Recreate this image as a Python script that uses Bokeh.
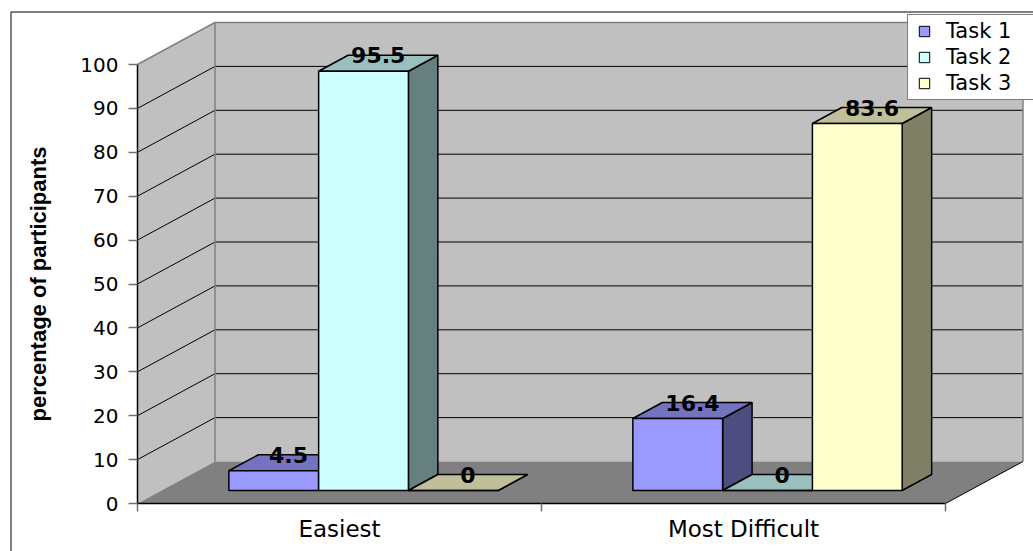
from bokeh.plotting import figure
from bokeh.models import Range1d, LinearAxis, FixedTicker, ColumnDataSource, Legend, LegendItem
from bokeh.core.properties import value
from bokeh.embed import file_html
from bokeh.resources import INLINE

# ---------------- data ----------------
categories = ["Easiest", "Most Difficult"]
series_names = ["Task 1", "Task 2", "Task 3"]
task1 = [4.5, 16.4]
task2 = [95.5, 0.0]
task3 = [0.0, 83.6]
y_ticks = [0, 10, 20, 30, 40, 50, 60, 70, 80, 90, 100]
y_title = "percentage of participants"

series_values = [task1, task2, task3]
front_colors = ["#9999FF", "#CCFFFF", "#FFFFCC"]
top_colors = ["#7373BF", "#99BFBF", "#BFBF99"]
side_colors = ["#4D4D80", "#668080", "#808066"]

# ---------------- geometry / styling ----------------
WIDTH, HEIGHT = 1033, 551
ORIGIN_PX_X, ORIGIN_PX_Y = 137.0, 503.0
PX_PER_CATEGORY = 404.0
PX_PER_PERCENT = 4.39
DEPTH_PX_X, DEPTH_PX_Y = 77.5, 42.0


def sx_to_x(px):
    return (px - ORIGIN_PX_X) / PX_PER_CATEGORY


def sy_to_y(py):
    return (ORIGIN_PX_Y - py) / PX_PER_PERCENT


DX = DEPTH_PX_X / PX_PER_CATEGORY
DY = DEPTH_PX_Y / PX_PER_PERCENT
N_CAT = len(categories)
Y_TOP = y_ticks[-1]
BAR_W = 1.0 / (len(series_names) + 1.5)
GAP = 0.75 * BAR_W
F0, F1 = 0.31, 0.69
WALL = "#C0C0C0"
FLOOR = "#808080"
EDGE = "#808080"

p = figure(width=WIDTH, height=HEIGHT,
           x_range=Range1d(sx_to_x(0), sx_to_x(WIDTH)),
           y_range=Range1d(sy_to_y(HEIGHT), sy_to_y(0)),
           x_axis_type=None, y_axis_type=None, tools="",
           toolbar_location=None, output_backend="svg",
           min_border_left=0, min_border_right=0,
           min_border_top=0, min_border_bottom=0)
p.outline_line_color = None
p.background_fill_color = "white"
p.border_fill_color = "white"

# chart-area border (cut by the window at right / bottom)
p.line(x=[sx_to_x(10.5), sx_to_x(10.5), sx_to_x(WIDTH + 10)],
       y=[sy_to_y(HEIGHT + 10), sy_to_y(11.5), sy_to_y(11.5)],
       line_color="black", line_width=1)

# walls and floor
p.patch([0, DX, DX, 0], [0, DY, Y_TOP + DY, Y_TOP], fill_color=WALL, line_color=None)
p.patch([DX, N_CAT + DX, N_CAT + DX, DX], [DY, DY, Y_TOP + DY, Y_TOP + DY],
        fill_color=WALL, line_color=None)
p.patch([0, N_CAT, N_CAT + DX, DX], [0, 0, DY, DY], fill_color=FLOOR, line_color=None)

grid_vals = y_ticks[1:-1]
p.multi_line([[DX, N_CAT + DX] for _ in grid_vals], [[v + DY, v + DY] for v in grid_vals],
             line_color="black", line_width=1)
p.multi_line([[0, DX] for _ in grid_vals], [[v, v + DY] for v in grid_vals],
             line_color="black", line_width=1)

# wall edges
p.multi_line([[DX, DX], [0, DX], [DX, N_CAT + DX], [N_CAT + DX, N_CAT + DX]],
             [[DY, Y_TOP + DY], [Y_TOP, Y_TOP + DY], [Y_TOP + DY, Y_TOP + DY], [DY, Y_TOP + DY]],
             line_color=EDGE, line_width=1.5)
p.line([N_CAT, N_CAT + DX], [0, DY], line_color="black", line_width=1)

# 3-D bars
for s, (vals, fc, tc, sc) in enumerate(zip(series_values, front_colors, top_colors, side_colors)):
    lefts = [c + GAP + s * BAR_W for c in range(N_CAT)]
    side_xs = [[l + BAR_W + F0 * DX, l + BAR_W + F1 * DX, l + BAR_W + F1 * DX, l + BAR_W + F0 * DX]
               for l in lefts]
    side_ys = [[F0 * DY, F1 * DY, v + F1 * DY, v + F0 * DY] for v in vals]
    top_xs = [[l + F0 * DX, l + BAR_W + F0 * DX, l + BAR_W + F1 * DX, l + F1 * DX] for l in lefts]
    top_ys = [[v + F0 * DY, v + F0 * DY, v + F1 * DY, v + F1 * DY] for v in vals]
    p.patches(side_xs, side_ys, fill_color=sc, line_color="black", line_width=1.5)
    p.patches(top_xs, top_ys, fill_color=tc, line_color="black", line_width=1.5)
    src = ColumnDataSource(dict(left=[l + F0 * DX for l in lefts],
                                right=[l + BAR_W + F0 * DX for l in lefts],
                                bottom=[F0 * DY] * N_CAT,
                                top=[v + F0 * DY for v in vals]))
    p.quad(left="left", right="right", bottom="bottom", top="top", source=src,
           fill_color=fc, line_color="black", line_width=1.5)

# value labels
lab_x, lab_y, lab_t = [], [], []
for s, vals in enumerate(series_values):
    for c, v in enumerate(vals):
        l = c + GAP + s * BAR_W
        lab_x.append(l + BAR_W / 2 + (F0 + F1) / 2 * DX)
        lab_y.append(v + F1 * DY)
        lab_t.append(f"{v:g}")
p.text(x=lab_x, y=lab_y, text=lab_t, text_font=value("DejaVu Sans"),
       text_font_style="bold", text_font_size="22px", text_align="center",
       text_baseline="middle", text_color="black")

# axes
yaxis = LinearAxis(fixed_location=0, bounds=(0, Y_TOP),
                   ticker=FixedTicker(ticks=y_ticks, minor_ticks=[]),
                   axis_label=y_title, axis_label_standoff=26,
                   axis_label_text_font="Liberation Sans", axis_label_text_font_style="bold",
                   axis_label_text_font_size="22px", axis_label_text_color="black",
                   major_label_text_font="DejaVu Sans", major_label_text_font_size="20px",
                   major_label_text_color="black", major_label_standoff=10,
                   major_tick_out=9, major_tick_in=0, major_tick_line_color="#707070",
                   major_tick_line_width=1.5, minor_tick_line_color=None,
                   axis_line_color="black", axis_line_width=1.5)
p.add_layout(yaxis, "left")

xaxis = LinearAxis(fixed_location=0, bounds=(0, N_CAT),
                   ticker=FixedTicker(ticks=[c + 0.5 for c in range(N_CAT)],
                                      minor_ticks=list(range(N_CAT + 1))),
                   major_label_overrides={c + 0.5: name for c, name in enumerate(categories)},
                   major_label_text_font="DejaVu Sans", major_label_text_font_size="23px",
                   major_label_text_color="black", major_label_standoff=4,
                   major_tick_out=0, major_tick_in=0, major_tick_line_color=None,
                   minor_tick_out=8, minor_tick_in=0, minor_tick_line_color="#707070",
                   minor_tick_line_width=1.5,
                   axis_line_color="black", axis_line_width=1.5)
p.add_layout(xaxis, "below")

# legend: square swatch proxies placed outside the visible range
proxies = []
off_x = sx_to_x(WIDTH + 400)
for name, fc in zip(series_names, front_colors):
    proxies.append(p.scatter(x=[off_x], y=[0], marker="square", fill_color=fc,
                             line_color="black", line_width=1))
legend = Legend(items=[LegendItem(label=n, renderers=[r]) for n, r in zip(series_names, proxies)],
                location=(907, HEIGHT - 100), orientation="vertical",
                glyph_width=26, glyph_height=26, label_height=26, label_width=100,
                label_standoff=9, padding=3, spacing=0, margin=0,
                label_text_font="DejaVu Sans", label_text_font_size="21px",
                label_text_color="black", border_line_color="black", border_line_width=1,
                background_fill_color="white", background_fill_alpha=1.0)
p.add_layout(legend)

open("out.html", "w").write(file_html(p, INLINE))
